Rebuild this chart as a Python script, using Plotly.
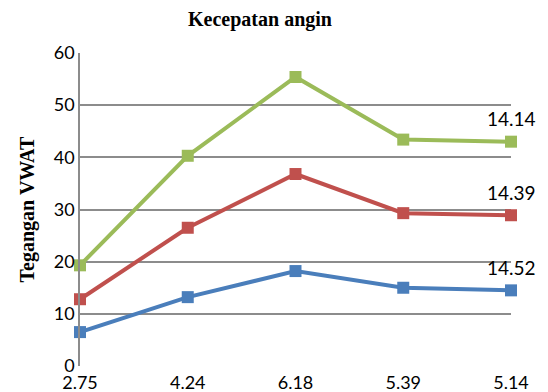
import plotly.graph_objects as go

categories = ["2.75", "4.24", "6.18", "5.39", "5.14"]
series_names = ["14.52", "14.39", "14.14"]
blue_vals = [6.5, 13.2, 18.2, 15.0, 14.5]
red_vals = [12.8, 26.5, 36.8, 29.3, 28.9]
green_vals = [19.3, 40.3, 55.4, 43.4, 43.0]
colors = ["#4A7EBB", "#C0504D", "#9BBB59"]
y_ticks = [0, 10, 20, 30, 40, 50, 60]

fig = go.Figure()
for name, vals, col in zip(series_names, [blue_vals, red_vals, green_vals], colors):
    fig.add_trace(go.Scatter(
        x=categories, y=vals, mode="lines+markers", name=name,
        line=dict(color=col, width=4),
        marker=dict(symbol="square", size=12, color=col),
        showlegend=False, cliponaxis=False,
    ))
    fig.add_annotation(x=len(categories) - 1, y=vals[-1], text=name, showarrow=False,
                       yshift=23, font=dict(family="Lato", size=19, color="#000000"))

fig.update_layout(
    width=540, height=384,
    margin=dict(l=72, r=37, t=45, b=26),
    paper_bgcolor="white", plot_bgcolor="white",
    title=dict(text="<b>Kecepatan angin</b>", x=180 / 431, xanchor="center", xref="paper",
               y=1 - 11 / 384, yanchor="middle", yref="container",
               font=dict(family="Liberation Serif", size=20, color="#000000")),
    xaxis=dict(type="category", range=[0, 4], showgrid=False, showline=False, ticks="",
               automargin=False, ticklabelstandoff=4,
               tickfont=dict(family="Lato", size=18, color="#000000"), zeroline=False),
    yaxis=dict(range=[0, 60], tickvals=y_ticks, showgrid=True, gridcolor="#8C8C8C", gridwidth=1.5,
               showline=True, linecolor="#8C8C8C", linewidth=1.5, ticks="",
               automargin=False,
               tickfont=dict(family="Lato", size=18, color="#000000"), zeroline=False,
               title=dict(text="<b>Tegangan VWAT</b>", standoff=14,
                          font=dict(family="Liberation Serif", size=20, color="#000000"))),
)
fig.write_html("out.html")
